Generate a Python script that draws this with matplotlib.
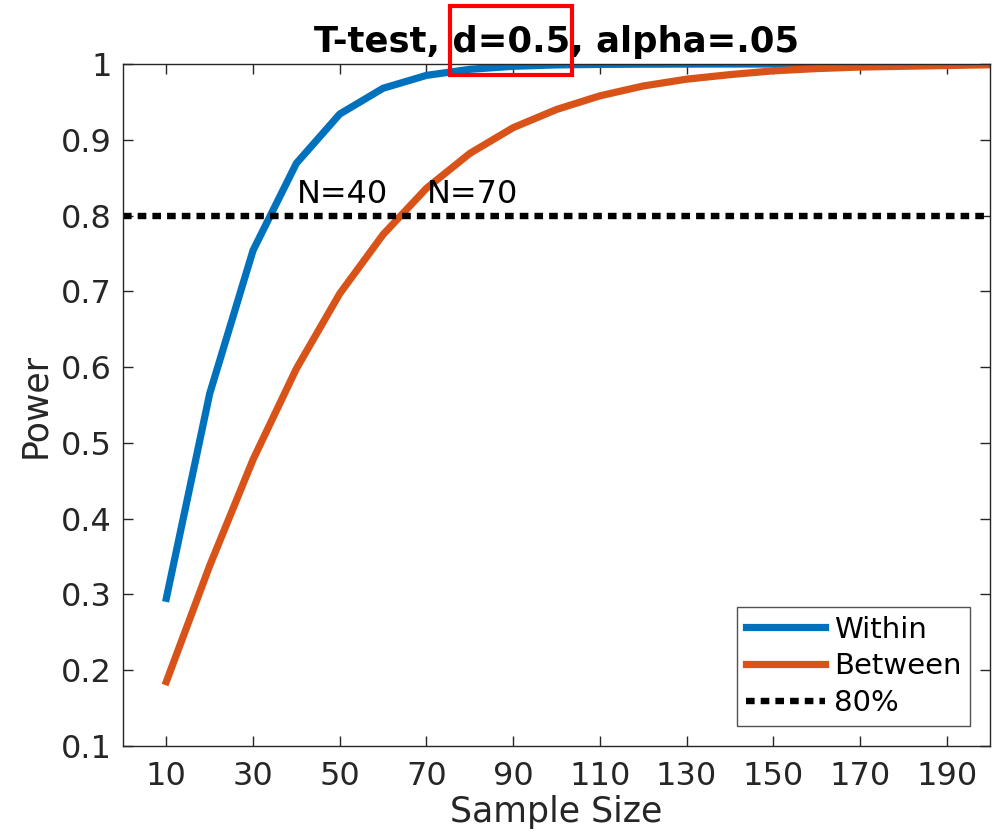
import matplotlib
matplotlib.use("Agg")
import matplotlib.pyplot as plt
from matplotlib.patches import Rectangle

# данные: мощность t-теста, d=0.5, alpha=.05
sample_size = [10, 20, 30, 40, 50, 60, 70, 80, 90, 100,
               110, 120, 130, 140, 150, 160, 170, 180, 190, 200]
power_within = [0.295, 0.565, 0.754, 0.869, 0.934, 0.968, 0.985, 0.993, 0.997, 0.9988,
                0.9995, 0.9998, 0.9999, 1.0, 1.0, 1.0, 1.0, 1.0, 1.0, 1.0]
power_between = [0.185, 0.338, 0.478, 0.598, 0.697, 0.775, 0.836, 0.882, 0.916, 0.940,
                 0.958, 0.971, 0.980, 0.986, 0.991, 0.994, 0.996, 0.997, 0.998, 0.999]
threshold = 0.8
x_ticks = [10, 30, 50, 70, 90, 110, 130, 150, 170, 190]
y_ticks = [0.1, 0.2, 0.3, 0.4, 0.5, 0.6, 0.7, 0.8, 0.9, 1.0]
y_tick_labels = ['0.1', '0.2', '0.3', '0.4', '0.5', '0.6', '0.7', '0.8', '0.9', '1']
notes = [(40, 'N=40'), (70, 'N=70')]

plt.rcParams['font.family'] = 'DejaVu Sans'
axis_col = (0.15, 0.15, 0.15)

fig = plt.figure(figsize=(9.95, 8.39), dpi=100)
ax = fig.add_axes([0.1236, 0.1108, 0.8714, 0.8129])

ax.plot(sample_size, power_within, color='#0072BD', lw=5.2, label='Within')
ax.plot(sample_size, power_between, color='#D95319', lw=5.2, label='Between')
ax.axhline(threshold, color='black', lw=4.6, dashes=(1.35, 0.95),
           dash_capstyle='butt', label='80%')

for xn, txt in notes:
    ax.text(xn, threshold + 0.016, txt, fontsize=23, color='black',
            ha='left', va='baseline')

ax.set_xlim(0, 200)
ax.set_ylim(0.1, 1.0)
ax.set_xticks(x_ticks)
ax.set_yticks(y_ticks)
ax.set_yticklabels(y_tick_labels)
ax.tick_params(direction='in', top=True, right=True, length=7, width=1,
               labelsize=23, colors=axis_col, labelcolor=axis_col)
ax.tick_params(axis='x', pad=11)
ax.tick_params(axis='y', pad=8)
for sp in ax.spines.values():
    sp.set_color(axis_col)
    sp.set_linewidth(1)

ax.set_xlabel('Sample Size', fontsize=25, color=axis_col, labelpad=2)
ax.set_ylabel('Power', fontsize=25, color=axis_col, labelpad=6)
ax.set_title('T-test, d=0.5, alpha=.05', fontsize=25.5, fontweight='bold', pad=8.6)

leg = ax.legend(loc='lower right', fontsize=21, frameon=True, fancybox=False,
                handlelength=2.7, handletextpad=0.3, borderpad=0.3,
                labelspacing=0.3, borderaxespad=0.69)
leg.get_frame().set_edgecolor(axis_col)
leg.get_frame().set_linewidth(1)

# красная рамка вокруг "d=0.5" в заголовке
fig.patches.append(Rectangle((0.452, 0.9106), 0.1226, 0.0822, transform=fig.transFigure,
                             fill=False, edgecolor='red', lw=3))

fig.savefig('out.png', dpi=100)
